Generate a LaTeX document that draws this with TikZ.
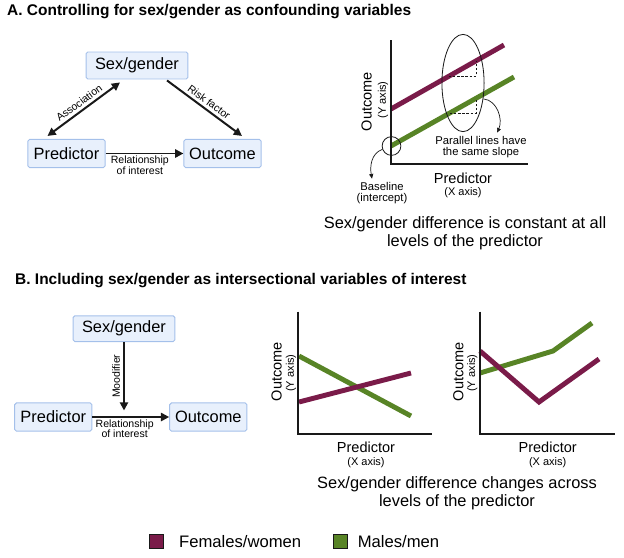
\documentclass[tikz,border=0pt]{standalone}
\usepackage{fontspec}
\setmainfont{Liberation Sans}
\usetikzlibrary{
    arrows.meta,
    positioning,
    shapes.geometric,
    calc
}
\definecolor{femcolor}{RGB}{122,27,73}
\definecolor{malecolor}{RGB}{88,132,38}
\definecolor{boxfill}{RGB}{232,240,252}
\definecolor{boxline}{RGB}{164,192,234}
\definecolor{inkgray}{RGB}{25,25,25}
\tikzset{
    % Variable boxes
    varbox/.style={
        rectangle,
        draw=boxline,
        line width=0.8pt,
        fill=boxfill,
        rounded corners=1.5pt,
        minimum width=66pt,
        minimum height=24pt,
        inner sep=0pt,
        font=\fontsize{14}{15}\selectfont
    },
    % Arrows
    linkarrow/.style={
        -{Triangle[length=7pt,width=7pt]},
        line width=1.7pt,
        draw=inkgray
    },
    biarrow/.style={
        {Triangle[length=7pt,width=7pt]}-{Triangle[length=7pt,width=7pt]},
        line width=1.7pt,
        draw=inkgray
    },
    notearrow/.style={
        -{Triangle[length=4pt,width=3.5pt]},
        line width=0.6pt,
        draw=inkgray
    },
    % Plots
    axisline/.style={line width=1.6pt, draw=inkgray},
    femline/.style={line width=4.2pt, draw=femcolor},
    maleline/.style={line width=4.2pt, draw=malecolor},
    guide/.style={line width=0.6pt, draw=inkgray, dashed, dash pattern=on 2pt off 1.5pt},
    % Labels
    title/.style={font=\fontsize{13.2}{15}\selectfont\bfseries, anchor=west, inner sep=0pt},
    arrowlabel/.style={font=\fontsize{9}{9}\selectfont, align=center, inner sep=2.5pt},
    notelabel/.style={font=\fontsize{9.6}{10}\selectfont, align=center, inner sep=0pt},
    axislabel/.style={font=\fontsize{12.4}{13}\selectfont, inner sep=0pt},
    axisnote/.style={font=\fontsize{9.4}{10}\selectfont, inner sep=0pt},
    caption/.style={font=\fontsize{14}{15}\selectfont, align=center, inner sep=0pt},
    legkey/.style={rectangle, draw=inkgray, line width=0.6pt, minimum size=12pt, inner sep=0pt},
    legtext/.style={font=\fontsize{14.2}{15}\selectfont, inner sep=0pt}
}

\begin{document}
\begin{tikzpicture}[x=0.03cm, y=-0.03cm]

    \useasboundingbox (0,0) rectangle (624,557);

    % Titles
    \node[title] (titleA) at (7,12) {A. Controlling for sex/gender as confounding variables};
    \node[title] (titleB) at (15,281) {B. Including sex/gender as intersectional variables of interest};

    % Panel A: confounding diagram
    \node[varbox, minimum width=87pt, minimum height=23pt] (sexA) at (137,65.5) {Sex/gender};
    \node[varbox] (predA) at (66.5,153.5) {Predictor};
    \node[varbox] (outA) at (222.5,153.5) {Outcome};

    \draw[biarrow] ($(predA.north)+(-19,-3)$) -- node[arrowlabel, midway, sloped, above] {Association} ($(sexA.south)+(-17,3)$);
    \draw[linkarrow] ($(sexA.south)+(30,1)$) -- node[arrowlabel, midway, sloped, above] {Risk factor} ($(outA.north)+(19.5,-3)$);
    \draw[linkarrow] (predA) -- node[arrowlabel, midway, below, xshift=-4pt, inner sep=1.5pt] {Relationship\\of interest} (outA);

    % Panel A: parallel lines plot
    \draw[femline] (391,109) -- (504,45);
    \draw[maleline] (391,146) -- (514,77);
    \draw[axisline] (391,40) -- (391,164) -- (528,164);
    \draw[guide] (449,76) -- (476,76) -- (476,61);
    \draw[guide] (450,113) -- (476,113) -- (476,98.3);

    \node[ellipse, draw=inkgray, line width=0.7pt, minimum width=36pt, minimum height=83pt, inner sep=0pt] (slopering) at (463,83) {};
    \node[circle, draw=inkgray, line width=0.7pt, minimum size=16pt, inner sep=0pt] (basering) at (391.5,146) {};

    \node[notelabel] (parlabel) at (481,147) {Parallel lines have\\the same slope};
    \node[notelabel] (baselabel) at (382,193) {Baseline\\(intercept)};
    \draw[notearrow] (slopering.-38) to[out=-5, in=65] ($(parlabel.north)+(16,-3)$);
    \draw[notearrow] (basering.200) to[out=200, in=100] ($(baselabel.north)+(-10,-3)$);

    \node[axislabel, rotate=90] (yA) at (366.7,101.7) {Outcome};
    \node[axisnote, rotate=90] (ynA) at (383,100) {(Y axis)};
    \node[axislabel] (xA) at (463,178) {Predictor};
    \node[axisnote] (xnA) at (463,193) {(X axis)};

    \node[caption] (capA) at (465,233) {Sex/gender difference is constant at all\\levels of the predictor};

    % Panel B: modifier diagram
    \node[varbox, minimum width=87pt, minimum height=22pt] (sexB) at (124,328.7) {Sex/gender};
    \node[varbox] (predB) at (53.3,417) {Predictor};
    \node[varbox] (outB) at (208.3,417) {Outcome};

    \draw[linkarrow] (predB) -- node[arrowlabel, pos=0.42, below, inner sep=1.5pt] {Relationship\\of interest} (outB);
    \coordinate (modend) at ($(sexB |- predB.north)+(0,8)$);
    \draw[linkarrow] (sexB) -- node[arrowlabel, midway, rotate=90, anchor=south] {Moodifier} (modend);

    % Panel B: crossing lines plot
    \draw[maleline] (299,356) -- (411,416);
    \draw[femline] (299,402) -- (411,373);
    \draw[axisline] (298.3,311.7) -- (298.3,434.3) -- (431.7,434.3);

    \node[axislabel, rotate=90] (yB1) at (276.7,371.7) {Outcome};
    \node[axisnote, rotate=90] (ynB1) at (291,373) {(Y axis)};
    \node[axislabel] (xB1) at (366,447.7) {Predictor};
    \node[axisnote] (xnB1) at (366,462.7) {(X axis)};

    % Panel B: bent lines plot
    \draw[maleline] (480,373) -- (553,351) -- (592,323);
    \draw[femline] (480,351) -- (539,402) -- (599,359);
    \draw[axisline] (480,311.7) -- (480,434.3) -- (615,434.3);

    \node[axislabel, rotate=90] (yB2) at (458.3,371.7) {Outcome};
    \node[axisnote, rotate=90] (ynB2) at (472.3,373) {(Y axis)};
    \node[axislabel] (xB2) at (547.7,447.7) {Predictor};
    \node[axisnote] (xnB2) at (547.7,462.7) {(X axis)};

    \node[caption] (capB) at (457,493) {Sex/gender difference changes across\\levels of the predictor};

    % Legend
    \node[legkey, fill=femcolor] (femkey) at (156.3,541.7) {};
    \node[legtext, right=13pt of femkey] (femtext) {Females/women};
    \node[legkey, fill=malecolor] (malekey) at (340.8,541.7) {};
    \node[legtext, right=8pt of malekey] (maletext) {Males/men};

\end{tikzpicture}
\end{document}
